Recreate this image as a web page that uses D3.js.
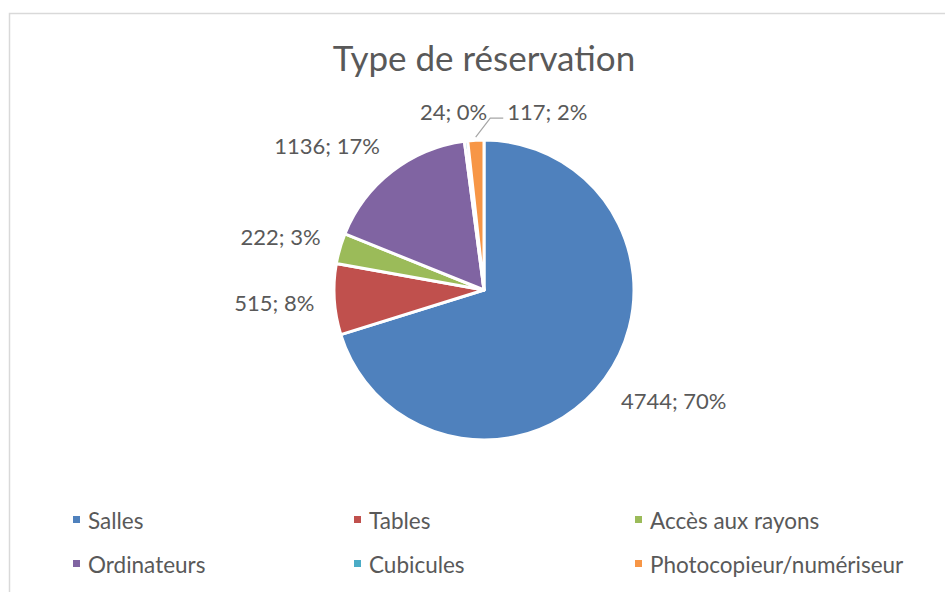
<!DOCTYPE html>
<html>
<head>
<meta charset="utf-8">
<script src="https://cdn.jsdelivr.net/npm/d3@7"></script>
<style>
  html, body { margin: 0; padding: 0; background: #fff; }
  svg { display: block; }
</style>
</head>
<body>
<svg width="945" height="592"></svg>
<script>
// données
const categories = ["Salles", "Tables", "Accès aux rayons", "Ordinateurs", "Cubicules", "Photocopieur/numériseur"];
const values = [4744, 515, 222, 1136, 24, 117];
const percents = ["70%", "8%", "3%", "17%", "0%", "2%"];
const colors = ["#4F81BD", "#C0504D", "#9BBB59", "#8064A2", "#4BACC6", "#F79646"];

const width = 945, height = 592;
const cx = 484, cy = 290, radius = 150;
const font = "Lato, 'Open Sans', sans-serif";
const textColor = "#595959";

const svg = d3.select("svg");

// cadre
svg.append("rect")
  .attr("x", 9.5).attr("y", 13.5)
  .attr("width", width + 20).attr("height", height + 20)
  .attr("fill", "#fff")
  .attr("stroke", "#d9d9d9").attr("stroke-width", 1.5);

svg.append("text")
  .attr("x", cx).attr("y", 71)
  .attr("text-anchor", "middle")
  .attr("font-family", font).attr("font-size", 35)
  .attr("fill", textColor)
  .text("Type de réservation");

const data = categories.map((c, i) => ({ name: c, value: values[i], pct: percents[i], color: colors[i] }));

const pie = d3.pie().value(d => d.value).sort(null);
const arcs = pie(data);
const arc = d3.arc().innerRadius(0).outerRadius(radius);

const g = svg.append("g").attr("transform", `translate(${cx},${cy})`);

g.selectAll("path.slice")
  .data(arcs)
  .enter().append("path")
  .attr("class", "slice")
  .attr("d", arc)
  .attr("fill", d => d.data.color)
  .attr("stroke", "#fff")
  .attr("stroke-width", 3)
  .attr("stroke-linejoin", "round");

// étiquettes
const labelR = 170, k = 2.5, lineH = 20;
const clamp = v => Math.max(-1, Math.min(1, v));
const labels = g.selectAll("text.lbl")
  .data(arcs)
  .enter().append("text")
  .attr("class", "lbl")
  .attr("font-family", font).attr("font-size", 22)
  .attr("fill", textColor)
  .attr("text-anchor", "middle")
  .attr("dominant-baseline", "central")
  .text(d => `${d.data.value}; ${d.data.pct}`);

const boxes = [];
labels.each(function (d) {
  const a = (d.startAngle + d.endAngle) / 2;
  const ux = Math.sin(a), uy = -Math.cos(a);
  const w = this.getComputedTextLength();
  let x = ux * labelR + clamp(ux * k) * w / 2;
  let y = uy * labelR + clamp(uy * k) * lineH / 2;
  const prev = boxes[boxes.length - 1];
  let leader = false;
  if (prev && Math.abs(prev.y - y) < lineH && x - w / 2 < prev.x + prev.w / 2 + 20) {
    x = prev.x + prev.w / 2 + 20 + w / 2;
    y = prev.y;
    leader = true;
  }
  boxes.push({ x, y, w });
  d3.select(this).attr("x", x).attr("y", y);
  if (leader) {
    const p0 = [ux * (radius + 3), uy * (radius + 3)];
    const p1 = [prev.x + prev.w / 2 + 3, y + 7];
    const p2 = [x - w / 2 - 4, y + 7];
    g.append("path")
      .attr("d", d3.line()([p0, p1, p2]))
      .attr("fill", "none")
      .attr("stroke", "#a6a6a6")
      .attr("stroke-width", 1.2);
  }
});

// légende
const colX = d3.scaleBand().domain([0, 1, 2]).range([73, 73 + 3 * 281]);
const rowY = d3.scaleBand().domain([0, 1]).range([498, 586]);
const leg = svg.selectAll("g.leg")
  .data(data)
  .enter().append("g")
  .attr("class", "leg")
  .attr("transform", (d, i) => `translate(${colX(i % 3)},${rowY(Math.floor(i / 3)) + rowY.bandwidth() / 2})`);
leg.append("rect")
  .attr("x", 0).attr("y", -4).attr("width", 7).attr("height", 7)
  .attr("fill", d => d.color);
leg.append("text")
  .attr("x", 15).attr("y", 0)
  .attr("dominant-baseline", "central")
  .attr("font-family", font).attr("font-size", 22.5)
  .attr("fill", textColor)
  .text(d => d.name);
</script>
</body>
</html>
